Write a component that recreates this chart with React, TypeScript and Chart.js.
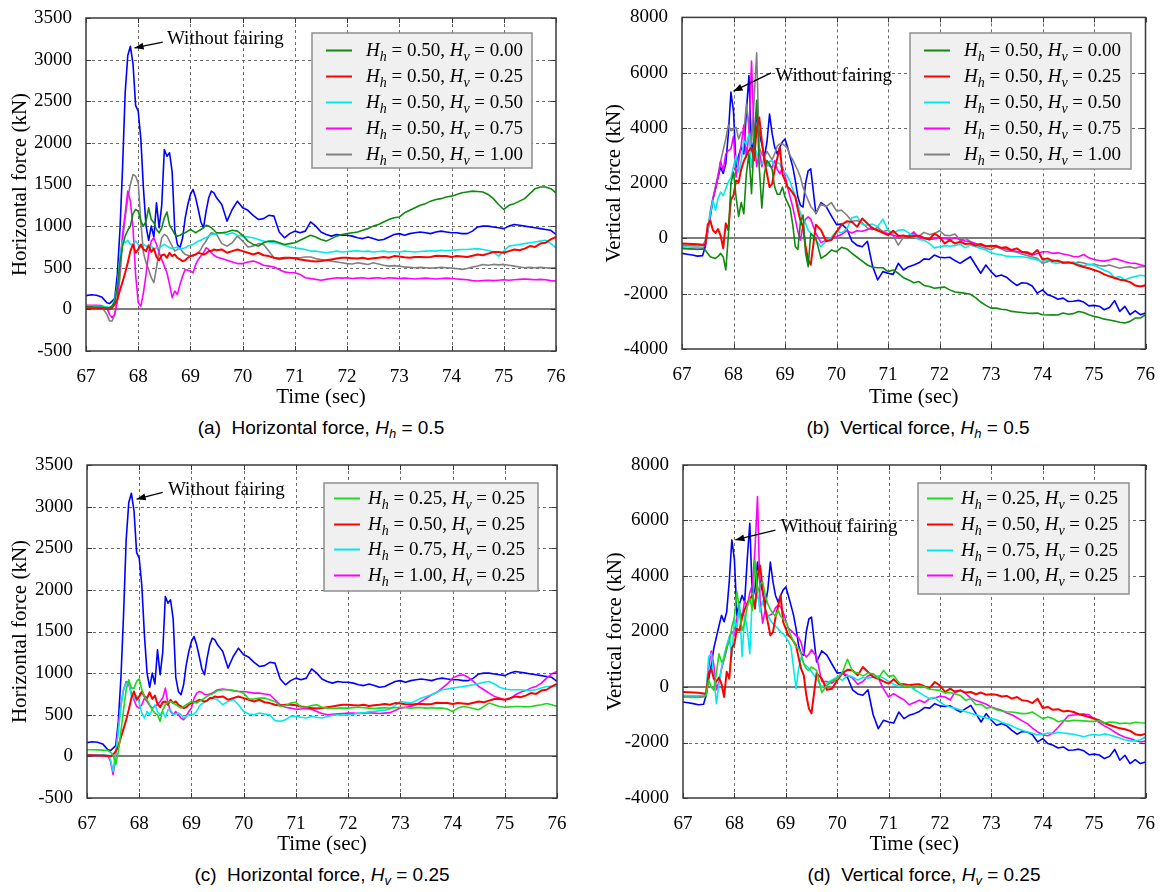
import React, { useEffect, useRef } from "react";
import { Chart, registerables } from "chart.js";

Chart.register(...registerables);

// ---------------- time grid (s) ----------------
const TIME = [
  67.0, 67.1, 67.2, 67.3, 67.4,
  67.45, 67.5, 67.55, 67.6, 67.65, 67.7, 67.75, 67.8, 67.85, 67.9, 67.95, 68.0,
  68.05, 68.1, 68.15, 68.2, 68.25, 68.3, 68.35, 68.4, 68.45, 68.5, 68.55, 68.6, 68.65, 68.7, 68.75, 68.8, 68.85, 68.9, 68.95, 69.0,
  69.05, 69.1, 69.15, 69.2, 69.25, 69.3, 69.35, 69.4, 69.45, 69.5,
  69.6, 69.7, 69.8, 69.9, 70.0,
  70.1, 70.2, 70.3, 70.4, 70.5, 70.6, 70.7, 70.8, 70.9,
  71.0, 71.1, 71.2, 71.3, 71.4, 71.5, 71.6, 71.7, 71.8, 71.9,
  72.0, 72.1, 72.2, 72.3, 72.4, 72.5, 72.6, 72.7, 72.8, 72.9,
  73.0, 73.1, 73.2, 73.3, 73.4, 73.5, 73.6, 73.7, 73.8, 73.9,
  74.0, 74.1, 74.2, 74.3, 74.4, 74.5, 74.6, 74.7, 74.8, 74.9,
  75.0, 75.1, 75.2, 75.3, 75.4, 75.5, 75.6, 75.7, 75.8, 75.9, 76.0,
];

// ---------------- horizontal force (kN) ----------------
const HZ_NOFAIR = [
  165, 175, 170, 150, 80,
  70, 100, 130, 420, 950, 1700, 2600, 3050, 3160, 2950, 2450, 2380,
  2050, 1450, 1000, 830, 1000, 870, 1280, 980, 1250, 1920, 1840, 1880, 1650, 950, 780, 740, 860, 1100, 1260, 1380,
  1440, 1340, 1200, 1050, 980, 1180, 1340, 1420, 1400, 1340,
  1260, 1060, 1200, 1300, 1220,
  1190, 1130, 1080, 1090, 1130, 1120, 930, 860, 910,
  940, 920, 940, 1050, 1000, 930, 900, 880, 900, 890,
  890, 880, 860, 850, 870, 850, 830, 840, 870, 900,
  910, 890, 910, 920, 930, 920, 910, 930, 940, 930,
  920, 920, 910, 910, 940, 990, 1000, 1000, 990, 980,
  970, 1000, 1020, 1010, 1000, 990, 980, 970, 960, 950, 900,
];
const HZ_HV000 = [
  30, 30, 25, 25, 20,
  20, 40, 90, 260, 560, 760, 880, 950, 1000, 1150, 1200, 1180,
  1060, 1000, 1060, 1220, 1080, 1040, 960, 920, 980, 1100, 1170, 1010, 960, 900, 880, 890, 910, 920, 940, 960,
  940, 920, 940, 960, 980, 1010, 1000, 980, 950, 920,
  920, 930, 950, 940, 890,
  820, 780, 760, 800, 820, 820, 800, 780, 790,
  800, 830, 860, 890, 870, 840, 820, 850, 880, 900,
  910, 920, 930, 950, 970, 1000, 1020, 1050, 1080, 1100,
  1110, 1160, 1190, 1220, 1250, 1270, 1300, 1320, 1330, 1350,
  1360, 1380, 1400, 1410, 1420, 1415, 1410, 1380, 1330, 1260,
  1200, 1250, 1270, 1300, 1330, 1390, 1450, 1470, 1470, 1450, 1400,
];
const HZ_HV025 = [
  15, 15, 12, 10, 5,
  0, 20, 60, 120, 230, 330, 440, 560, 700, 780, 680, 720,
  780, 720, 700, 770, 690, 730, 630, 590, 650, 660, 620, 680, 640, 660, 620, 600, 580, 590, 620, 640,
  650, 660, 680, 670, 660, 670, 700, 700, 720, 710,
  720, 680, 700, 720, 700,
  680, 660, 680, 650, 640, 620, 610, 620, 620,
  615, 600, 590, 580, 575, 580, 590, 600, 610, 620,
  620, 615, 610, 620, 605, 615, 620, 630, 620, 640,
  635, 625, 620, 630, 630, 625, 630, 645, 640, 640,
  630, 640, 635, 630, 645, 660, 650, 670, 690, 690,
  680, 700, 720, 710, 730, 760, 750, 790, 800, 840, 870,
];
const HZ_HV050 = [
  40, 40, 38, 35, 30,
  20, 40, 120, 280, 620, 820, 800, 830, 780, 780, 820, 780,
  740, 780, 760, 740, 760, 720, 740, 740, 760, 780, 760, 740, 730, 740, 750, 720, 730, 740, 760, 770,
  780, 800, 820, 830, 850, 860, 880, 900, 900, 910,
  920, 900, 920, 890, 880,
  870, 860, 840, 820, 810, 800, 790, 770, 750,
  740, 730, 720, 700, 700, 690, 680, 690, 700, 690,
  695, 700, 705, 695, 700, 690, 695, 700, 690, 695,
  690, 700, 695, 690, 695, 700, 705, 700, 710, 705,
  710, 715, 720, 720, 725, 730, 720, 710, 690, 640,
  700, 760, 770, 780, 790, 800, 810, 820, 830, 790, 740,
];
const HZ_HV075 = [
  50, 50, 48, 45, 20,
  -60, -100, -60, 100, 550, 900, 1150, 1420, 1300, 980, 420, 80,
  40, 200, 420, 680, 820, 860, 780, 680, 600, 520, 440, 300, 140, 220, 180, 300, 400, 480, 470, 460,
  440, 540, 600, 640, 680, 740, 720, 680, 650, 630,
  610, 590, 570, 550, 550,
  570, 580, 560, 530, 520, 510, 480, 450, 440,
  440, 420, 380, 370, 360, 350, 360, 370, 380, 375,
  380, 370, 375, 380, 370, 375, 380, 370, 380, 375,
  370, 375, 370, 365, 370, 375, 370, 365, 370, 375,
  370, 365, 360, 355, 345, 340, 345, 350, 345, 350,
  355, 350, 355, 360, 365, 360, 355, 360, 355, 345, 340,
];
const HZ_HV100 = [
  40, 40, 38, 30, -60,
  -140, -140, -60, 120, 380, 820, 1100, 1340, 1500, 1620, 1600, 1520,
  1050, 680, 560, 480, 380, 320, 500, 700, 860, 900, 880, 820, 760, 700, 720, 740, 690, 660, 650, 640,
  640, 660, 680, 720, 780, 820, 880, 920, 910, 900,
  790, 760, 800, 880, 820,
  750, 760, 790, 780, 700, 620, 600, 610, 620,
  620, 620, 630, 630, 610, 600, 590, 580, 570, 560,
  550, 545, 560, 550, 540, 560, 545, 530, 520, 525,
  520, 510, 505, 500, 505, 500, 495, 500, 505, 500,
  495, 490, 480, 490, 510, 520, 540, 530, 540, 535,
  540, 530, 520, 510, 500, 505, 500, 505, 500, 495, 500,
];
const HZ_HH025 = [
  80, 80, 78, 75, 70,
  50, 20, -100, 60, 300, 560, 800, 920, 820, 820, 900, 930,
  800, 720, 680, 620, 560, 520, 500, 420, 560, 620, 650, 660, 640, 620, 600, 580, 600, 620, 640, 660,
  650, 640, 660, 680, 700, 720, 740, 750, 770, 790,
  800, 800, 790, 780, 760,
  690, 690, 700, 700, 680, 660, 600, 610, 640,
  650, 590, 590, 610, 620, 590, 580, 575, 580, 580,
  580, 585, 590, 585, 580, 575, 580, 585, 580, 585,
  590, 585, 580, 585, 585, 580, 585, 580, 580, 570,
  540, 580, 600, 590, 575, 560, 600, 640, 620, 600,
  590, 595, 600, 600, 595, 600, 610, 620, 635, 620, 600,
];
const HZ_HH075 = [
  20, 20, 20, 18, 15,
  -40, -180, 40, 300, 600, 800, 880, 900, 720, 700, 730, 640,
  520, 460, 540, 500, 560, 620, 540, 500, 540, 470, 560, 560, 500, 510, 520, 500, 460, 480, 500, 500,
  510, 540, 600, 630, 650, 670, 690, 700, 690, 680,
  620, 660, 680, 620, 540,
  510, 500, 520, 510, 500, 430, 420, 440, 480,
  480, 470, 460, 480, 470, 460, 480, 490, 500, 495,
  500, 505, 520, 525, 535, 540, 550, 555, 570, 610,
  660, 650, 640, 670, 700, 720, 740, 770, 800, 810,
  820, 830, 840, 850, 860, 875, 890, 900, 870, 830,
  810, 800, 800, 800, 795, 790, 800, 820, 840, 840, 840,
];
const HZ_HH100 = [
  10, 10, 10, 8, 5,
  -60, -220, 20, 360, 620, 800, 900, 860, 760, 680, 600, 580,
  620, 700, 660, 610, 580, 600, 620, 660, 700, 820, 640, 540, 500, 540, 500, 460, 440, 480, 540, 580,
  700, 760, 780, 770, 745, 740, 750, 760, 780, 800,
  810, 800, 790, 780, 780,
  770, 760, 760, 750, 740, 680, 620, 590, 580,
  565, 570, 575, 565, 540, 515, 500, 505, 510, 515,
  520, 520, 515, 520, 525, 520, 515, 520, 525, 550,
  580, 590, 600, 620, 660, 700, 740, 770, 820, 870,
  940, 970, 980, 950, 900, 840, 800, 760, 720, 700,
  680, 690, 740, 770, 790, 820, 840, 880, 940, 990, 1020,
];

// ---------------- vertical force (kN) ----------------
const VT_NOFAIR = [
  -540, -570, -600, -640, -620,
  -300, 300, 780, 1400, 1800, 2200, 2580, 2350, 2700, 3800, 5300, 4600,
  2580, 3000, 3300, 3060, 4600, 5900, 3180, 3540, 4500, 3800, 3420, 2940, 3500, 4500, 3800, 3300, 3060, 3300, 3500, 3600,
  3300, 2950, 2600, 2100, 1500, 1200, 1140, 2000, 2450, 2520,
  900, 1300, 1150, 820, 500,
  520, 350, -100, -250, -300, -100, -1000, -1500, -1200,
  -1260, -1300, -900, -1140, -1020, -960, -880, -740, -760, -600,
  -680, -700, -680, -800, -900, -780, -660, -960, -1260, -960,
  -1200, -1380, -1320, -1400, -1560, -1700, -1600, -1620, -1720, -1980,
  -1860, -2040, -2100, -2200, -2160, -2280, -2270, -2240, -2300, -2440,
  -2420, -2450, -2580, -2500, -2250, -2640, -2460, -2760, -2620, -2760, -2700,
];
const VT_HV000 = [
  -360, -370, -380, -400, -380,
  -420, -540, -660, -700, -720, -650, -540, -660, -1140, 100, 2000, 2400,
  1500, 800, 1300, 900, 2340, 3060, 1620, 3500, 5000, 2580, 1100, 2340, 2820, 2700, 2500, 1860, 1600, 1600, 1860, 1500,
  1300, 1100, 500, -300, -400, 600, 850, -540, -1020, 180,
  0, -720, -600, -420, -480,
  -320, -380, -540, -680, -820, -960, -1040, -1060, -1060,
  -1200, -1140, -1260, -1420, -1500, -1600, -1560, -1700, -1740, -1800,
  -1780, -1760, -1860, -1940, -1960, -1980, -2020, -2140, -2300, -2420,
  -2520, -2520, -2560, -2580, -2640, -2660, -2680, -2700, -2710, -2700,
  -2760, -2770, -2760, -2770, -2700, -2740, -2720, -2640, -2680, -2760,
  -2820, -2860, -2920, -2950, -2990, -3030, -3060, -3000, -2880, -2880, -2760,
];
const VT_HV025 = [
  -180, -190, -200, -210, -230,
  -240, 500, 650, 300, 200, 340, 100, -360, 550, 300, 1400, 1560,
  2100, 2040, 2500, 2800, 3000, 3180, 3300, 2820, 4000, 4380, 3540, 2820, 2340, 1860, 1980, 2500, 2900, 3300, 2340, 2100,
  1860, 1780, 1650, 1500, 1050, 650, 420, -300, -780, -950,
  500, 300, -100, -60, 240,
  500, 620, 600, 420, 720, 540, 360, 300, 200,
  120, 280, 100, 100, 60, 90, 100, 20, -40, 180,
  60, -180, -60, -180, -120, -200, -180, -260, -200, -280,
  -260, -280, -340, -320, -420, -360, -480, -500, -580, -420,
  -760, -720, -820, -800, -880, -860, -900, -980, -1030, -1080,
  -1140, -1200, -1300, -1370, -1430, -1490, -1520, -1580, -1700, -1740, -1690,
];
const VT_HV050 = [
  -300, -310, -320, -330, -320,
  -150, 300, 900, 1380, 1020, 1450, 1680, 1550, 1800, 2050, 2200, 2600,
  3000, 2400, 2800, 3540, 3420, 3780, 2580, 3300, 3100, 2700, 2700, 2820, 2600, 2800, 2800, 2580, 2750, 2700, 2460, 2380,
  2250, 2050, 1780, 1550, 1250, 900, 750, 550, 300, 200,
  -60, -300, -80, 40, 260,
  200, 350, 750, 800, 500, 480, 520, 430, 700,
  300, 180, 300, 320, 200, 80, -40, -60, -180, -340,
  -300, -260, -280, -260, -200, -340, -240, -300, -360, -420,
  -520, -560, -590, -640, -650, -660, -660, -690, -730, -780,
  -840, -780, -880, -900, -850, -890, -850, -930, -1000, -930,
  -960, -1060, -1150, -1220, -1420, -1380, -1500, -1420, -1380, -1330, -1360,
];
const VT_HV075 = [
  -360, -370, -380, -390, -370,
  -200, 200, 900, 1450, 1800, 2250, 2800, 2460, 3060, 3180, 3240, 3700,
  2220, 2800, 3400, 4100, 2940, 3780, 6420, 3700, 2600, 3200, 2600, 2940, 2700, 2620, 2580, 2820, 2500, 2340, 2580, 2300,
  1850, 1500, 1140, 700, 250, -60, 500, 700, 780, 700,
  180, -150, -60, 0, 60,
  150, 280, 200, 280, 260, 320, 400, 280, 220,
  180, 120, 60, 120, 60, 240, 20, 0, -40, -20,
  40, 0, -40, 30, -40, -90, -120, -180, -240, -280,
  -300, -250, -340, -390, -430, -470, -500, -540, -600, -540,
  -480, -480, -540, -520, -560, -600, -650, -660, -580, -700,
  -760, -800, -820, -780, -730, -780, -840, -890, -900, -950, -1000,
];
const VT_HV100 = [
  -240, -250, -260, -270, -250,
  -100, 300, 1000, 1450, 1900, 2300, 2800, 3200, 3600, 4100, 3900, 3950,
  4020, 3600, 3850, 3780, 4860, 4000, 3420, 5000, 6720, 3300, 3050, 2940, 3150, 3000, 2850, 3060, 3350, 3420, 3420, 3350,
  3250, 3000, 2850, 2650, 2450, 2220, 1850, 1600, 1380, 1160,
  920, 1250, 1150, 1300, 1000,
  1020, 850, 620, 650, 560, 380, 320, 400, 250,
  300, 100, -240, 40, 120, 170, 80, 220, 140, 170,
  280, 120, 100, 160, -60, 0, -110, -240, -300, -350,
  -410, -310, -370, -460, -450, -500, -560, -620, -670, -720,
  -900, -840, -780, -830, -890, -880, -900, -850, -890, -950,
  -930, -980, -1000, -960, -1020, -1080, -1040, -1020, -1080, -1020, -1020,
];
const VT_HH025 = [
  -360, -370, -380, -380, -360,
  -300, 240, 0, -120, 500, 1200, 900, 1000, 1440, 1600, 2160, 2520,
  3430, 2770, 2040, 2300, 2900, 3200, 2770, 4570, 3400, 3700, 3800, 3300, 3000, 2800, 2650, 2550, 2770, 2550, 2450, 2350,
  2100, 1850, 1650, 1450, 1380, 1200, 840, 650, 600, 720,
  600, -200, 60, 220, 300,
  520, 1000, 560, 500, 400, 500, 480, 300, 600,
  380, 420, 160, 20, 40, -40, 40, 0, -80, -100,
  -120, -220, -200, -250, -310, -480, -420, -640, -620, -760,
  -730, -820, -860, -890, -900, -930, -960, -950, -900, -1020,
  -1140, -1080, -1140, -1250, -1210, -1230, -1200, -1210, -1220, -1240,
  -1240, -1220, -1300, -1260, -1270, -1320, -1300, -1320, -1270, -1290, -1300,
];
const VT_HH075 = [
  -300, -310, -320, -320, -300,
  -240, 1100, 1200, 400, -600, 100, 700, 1150, 1500, 1800, 1100, 2450,
  2100, 3000, 1100, 2600, 2100, 1200, 3370, 2890, 3400, 2700, 3100, 2770, 2600, 2400, 2280, 2200, 2100, 1980, 1920, 1800,
  1650, 1450, 700, -60, 650, 1080, 840, 750, 680, 560,
  300, 0, 140, 250, 360,
  240, 420, 360, 250, 340, 320, 350, 400, 320,
  200, 100, 20, 100, 60, -100, -200, -320, -420, -380,
  -540, -660, -720, -770, -830, -890, -950, -1000, -1060, -1120,
  -1140, -1180, -1270, -1330, -1400, -1500, -1560, -1620, -1670, -1730,
  -1700, -1660, -1680, -1640, -1660, -1680, -1700, -1750, -1790, -1740,
  -1710, -1740, -1690, -1730, -1780, -1840, -1900, -1940, -1940, -1900, -1800,
];
const VT_HH100 = [
  -340, -345, -350, -355, -330,
  -240, 700, 1300, 800, -100, 200, 650, 1000, 1350, 1800, 2000, 1850,
  2520, 2770, 2520, 3100, 2900, 3400, 3700, 4930, 6860, 3130, 2300, 2770, 2550, 2600, 2650, 2850, 2950, 2900, 2700, 2400,
  2120, 2040, 1950, 1850, 1780, 1600, 1200, 1080, 1180, 1350,
  1080, 200, 200, 140, 320,
  500, 420, 320, 100, 200, 400, 460, 320, -60,
  -360, -240, -360, -460, -640, -560, -480, -560, -420, -400,
  -330, -360, -470, -150, -120, -240, -400, -490, -550, -620,
  -720, -780, -840, -940, -1000, -1110, -1220, -1320, -1480, -1620,
  -1720, -1760, -1650, -1450, -1240, -1030, -1010, -990, -970, -1000,
  -1150, -1280, -1400, -1500, -1620, -1730, -1810, -1860, -1930, -1980, -1950,
];

// ---------------- ticks & labels ----------------
const X_TICKS = [67, 68, 69, 70, 71, 72, 73, 74, 75, 76];
const HZ_TICKS = [-500, 0, 500, 1000, 1500, 2000, 2500, 3000, 3500];
const VT_TICKS = [-4000, -2000, 0, 2000, 4000, 6000, 8000];
const X_TITLE = "Time (sec)";
const HZ_TITLE = "Horizontal force (kN)";
const VT_TITLE = "Vertical force (kN)";
const NOTE_TEXT = "Without fairing";

const COL = {
  blue: "#0000ff",
  green: "#0e8a0e",
  lime: "#1ed81e",
  red: "#ff0000",
  cyan: "#00eaea",
  magenta: "#ff00ff",
  gray: "#808080",
};

const SERIF = '"Liberation Serif", "Times New Roman", serif';
const SANS = '"Liberation Sans", Arial, sans-serif';

type Series = { values: number[]; color: string; width: number; hh?: string; hv?: string };
type PanelCfg = {
  left: number; top: number; W: number; H: number;
  plotL: number; plotR: number; plotT: number; plotB: number;
  yMin: number; yMax: number; yTicks: number[]; yTitle: string; yTitlePad: number;
  series: Series[];
  legend: { x: number; y: number; w: number; h: number; first: number; rowH: number; lineX: number; textX: number };
  note: { tipX: number; tipY: number; tailX: number; tailY: number; textX: number; textY: number };
  caption: { cx: number; cy: number; tag: string; text: string; sub: string; val: string };
};

const PANELS: PanelCfg[] = [
  {
    left: 0, top: 0, W: 581, H: 415, plotL: 86, plotR: 556, plotT: 18, plotB: 351,
    yMin: -500, yMax: 3500, yTicks: HZ_TICKS, yTitle: HZ_TITLE, yTitlePad: 8,
    series: [
      { values: HZ_HV000, color: COL.green, width: 1.6, hh: "0.50", hv: "0.00" },
      { values: HZ_HV025, color: COL.red, width: 2, hh: "0.50", hv: "0.25" },
      { values: HZ_HV050, color: COL.cyan, width: 1.6, hh: "0.50", hv: "0.50" },
      { values: HZ_HV075, color: COL.magenta, width: 1.6, hh: "0.50", hv: "0.75" },
      { values: HZ_HV100, color: COL.gray, width: 1.6, hh: "0.50", hv: "1.00" },
      { values: HZ_NOFAIR, color: COL.blue, width: 1.6 },
    ],
    legend: { x: 312, y: 33, w: 220, h: 135, first: 17, rowH: 26, lineX: 14, textX: 54 },
    note: { tipX: 67.93, tipY: 3140, tailX: 68.47, tailY: 3210, textX: 68.55, textY: 3250 },
    caption: { cx: 321, cy: 428, tag: "(a)", text: "Horizontal force, ", sub: "h", val: "0.5" },
  },
  {
    left: 581, top: 0, W: 581, H: 415, plotL: 101, plotR: 571, plotT: 16, plotB: 349,
    yMin: -4000, yMax: 8000, yTicks: VT_TICKS, yTitle: VT_TITLE, yTitlePad: 21,
    series: [
      { values: VT_HV000, color: COL.green, width: 1.6, hh: "0.50", hv: "0.00" },
      { values: VT_HV025, color: COL.red, width: 2, hh: "0.50", hv: "0.25" },
      { values: VT_HV050, color: COL.cyan, width: 1.6, hh: "0.50", hv: "0.50" },
      { values: VT_HV075, color: COL.magenta, width: 1.6, hh: "0.50", hv: "0.75" },
      { values: VT_HV100, color: COL.gray, width: 1.6, hh: "0.50", hv: "1.00" },
      { values: VT_NOFAIR, color: COL.blue, width: 1.6 },
    ],
    legend: { x: 329, y: 33, w: 221, h: 136, first: 17, rowH: 26, lineX: 14, textX: 54 },
    note: { tipX: 68.0, tipY: 5330, tailX: 68.73, tailY: 5990, textX: 68.81, textY: 5870 },
    caption: { cx: 918, cy: 428, tag: "(b)", text: "Vertical force, ", sub: "h", val: "0.5" },
  },
  {
    left: 0, top: 447, W: 581, H: 415, plotL: 87, plotR: 557, plotT: 18, plotB: 351,
    yMin: -500, yMax: 3500, yTicks: HZ_TICKS, yTitle: HZ_TITLE, yTitlePad: 8,
    series: [
      { values: HZ_HH025, color: COL.lime, width: 1.6, hh: "0.25", hv: "0.25" },
      { values: HZ_HV025, color: COL.red, width: 2, hh: "0.50", hv: "0.25" },
      { values: HZ_HH075, color: COL.cyan, width: 1.6, hh: "0.75", hv: "0.25" },
      { values: HZ_HH100, color: COL.magenta, width: 1.6, hh: "1.00", hv: "0.25" },
      { values: HZ_NOFAIR, color: COL.blue, width: 1.6 },
    ],
    legend: { x: 324, y: 36, w: 214, h: 108, first: 15, rowH: 25.7, lineX: 10, textX: 44 },
    note: { tipX: 67.95, tipY: 3090, tailX: 68.45, tailY: 3170, textX: 68.55, textY: 3200 },
    caption: { cx: 322, cy: 875, tag: "(c)", text: "Horizontal force, ", sub: "v", val: "0.25" },
  },
  {
    left: 581, top: 447, W: 581, H: 415, plotL: 102, plotR: 572, plotT: 18, plotB: 351,
    yMin: -4000, yMax: 8000, yTicks: VT_TICKS, yTitle: VT_TITLE, yTitlePad: 22,
    series: [
      { values: VT_HH025, color: COL.lime, width: 1.6, hh: "0.25", hv: "0.25" },
      { values: VT_HV025, color: COL.red, width: 2, hh: "0.50", hv: "0.25" },
      { values: VT_HH075, color: COL.cyan, width: 1.6, hh: "0.75", hv: "0.25" },
      { values: VT_HH100, color: COL.magenta, width: 1.6, hh: "1.00", hv: "0.25" },
      { values: VT_NOFAIR, color: COL.blue, width: 1.6 },
    ],
    legend: { x: 337, y: 36, w: 211, h: 111, first: 15, rowH: 25.8, lineX: 9, textX: 43 },
    note: { tipX: 68.02, tipY: 5300, tailX: 68.8, tailY: 5650, textX: 68.9, textY: 5760 },
    caption: { cx: 924, cy: 875, tag: "(d)", text: "Vertical force, ", sub: "v", val: "0.25" },
  },
];

function makePlugin(cfg: PanelCfg) {
  return {
    id: "matlabStyle",
    beforeDatasetsDraw(chart: any) {
      const { ctx, chartArea } = chart;
      const { left, right, top, bottom } = chartArea;
      const xs = chart.scales.x;
      const ys = chart.scales.y;
      ctx.save();
      ctx.strokeStyle = "#6a6a6a";
      ctx.lineWidth = 1;
      ctx.setLineDash([3, 3]);
      X_TICKS.forEach((v) => {
        if (v === X_TICKS[0] || v === X_TICKS[X_TICKS.length - 1]) return;
        const px = Math.round(xs.getPixelForValue(v)) + 0.5;
        ctx.beginPath();
        ctx.moveTo(px, top);
        ctx.lineTo(px, bottom);
        ctx.stroke();
      });
      cfg.yTicks.forEach((v) => {
        if (v === cfg.yMin || v === cfg.yMax || v === 0) return;
        const py = Math.round(ys.getPixelForValue(v)) + 0.5;
        ctx.beginPath();
        ctx.moveTo(left, py);
        ctx.lineTo(right, py);
        ctx.stroke();
      });
      ctx.setLineDash([]);
      ctx.strokeStyle = "#505050";
      ctx.lineWidth = 1.5;
      const y0 = Math.round(ys.getPixelForValue(0));
      ctx.beginPath();
      ctx.moveTo(left, y0);
      ctx.lineTo(right, y0);
      ctx.stroke();
      ctx.restore();
    },
    afterDraw(chart: any) {
      const { ctx, chartArea } = chart;
      const { left, right, top, bottom } = chartArea;
      const xs = chart.scales.x;
      const ys = chart.scales.y;
      ctx.save();
      // frame
      ctx.strokeStyle = "#3a3a3a";
      ctx.lineWidth = 1.5;
      ctx.strokeRect(left, top, right - left, bottom - top);
      // inward ticks
      ctx.lineWidth = 1;
      const tl = 5;
      X_TICKS.forEach((v) => {
        const px = Math.round(xs.getPixelForValue(v)) + 0.5;
        ctx.beginPath();
        ctx.moveTo(px, top);
        ctx.lineTo(px, top + tl);
        ctx.moveTo(px, bottom);
        ctx.lineTo(px, bottom - tl);
        ctx.stroke();
      });
      cfg.yTicks.forEach((v) => {
        const py = Math.round(ys.getPixelForValue(v)) + 0.5;
        ctx.beginPath();
        ctx.moveTo(left, py);
        ctx.lineTo(left + tl, py);
        ctx.moveTo(right, py);
        ctx.lineTo(right - tl, py);
        ctx.stroke();
      });

      // annotation
      const n = cfg.note;
      const tx = xs.getPixelForValue(n.tipX);
      const ty = ys.getPixelForValue(n.tipY);
      const sx = xs.getPixelForValue(n.tailX);
      const sy = ys.getPixelForValue(n.tailY);
      ctx.strokeStyle = "#000";
      ctx.fillStyle = "#000";
      ctx.lineWidth = 1.3;
      ctx.beginPath();
      ctx.moveTo(sx, sy);
      ctx.lineTo(tx, ty);
      ctx.stroke();
      const ang = Math.atan2(ty - sy, tx - sx);
      const al = 9;
      const aw = 3.5;
      ctx.beginPath();
      ctx.moveTo(tx, ty);
      ctx.lineTo(tx - al * Math.cos(ang) + aw * Math.sin(ang), ty - al * Math.sin(ang) - aw * Math.cos(ang));
      ctx.lineTo(tx - al * Math.cos(ang) - aw * Math.sin(ang), ty - al * Math.sin(ang) + aw * Math.cos(ang));
      ctx.closePath();
      ctx.fill();
      ctx.font = `19px ${SERIF}`;
      ctx.textBaseline = "middle";
      ctx.textAlign = "left";
      ctx.fillText(NOTE_TEXT, xs.getPixelForValue(n.textX), ys.getPixelForValue(n.textY));

      // legend
      const L = cfg.legend;
      ctx.fillStyle = "#f0f0f0";
      ctx.fillRect(L.x, L.y, L.w, L.h);
      ctx.strokeStyle = "#8f8f8f";
      ctx.lineWidth = 1.5;
      ctx.strokeRect(L.x, L.y, L.w, L.h);
      const items = cfg.series.filter((s) => s.hh);
      ctx.textBaseline = "alphabetic";
      items.forEach((s, i) => {
        const cy = Math.round(L.y + L.first + i * L.rowH);
        ctx.strokeStyle = s.color;
        ctx.lineWidth = 2;
        ctx.beginPath();
        ctx.moveTo(L.x + L.lineX, cy + 0.5);
        ctx.lineTo(L.x + L.lineX + 26, cy + 0.5);
        ctx.stroke();
        const base = cy + 6;
        let x = L.x + L.textX;
        const segs: [string, number, string, number][] = [
          ["italic", 19, "H", 0],
          ["italic", 14, "h", 5],
          ["normal", 19, " = " + s.hh + ", ", 0],
          ["italic", 19, "H", 0],
          ["italic", 14, "v", 5],
          ["normal", 19, " = " + s.hv, 0],
        ];
        ctx.fillStyle = "#000";
        segs.forEach(([st, sz, t, dy]) => {
          ctx.font = `${st} ${sz}px ${SERIF}`;
          ctx.fillText(t, x, base + dy);
          x += ctx.measureText(t).width;
        });
      });
      ctx.restore();
    },
  };
}

function Panel({ cfg }: { cfg: PanelCfg }) {
  const ref = useRef<HTMLCanvasElement | null>(null);
  useEffect(() => {
    if (!ref.current) return;
    const datasets = cfg.series.map((s) => ({
      label: s.hh ? `H_h = ${s.hh}, H_v = ${s.hv}` : NOTE_TEXT,
      data: TIME.map((t, i) => ({ x: t, y: s.values[i] })),
      borderColor: s.color,
      borderWidth: s.width,
      pointRadius: 0,
      fill: false,
      tension: 0,
      borderJoinStyle: "round" as const,
    }));
    const chart = new Chart(ref.current, {
      type: "line",
      data: { datasets },
      options: {
        responsive: false,
        animation: false,
        devicePixelRatio: 1,
        layout: { padding: { left: 0, right: cfg.W - cfg.plotR, top: cfg.plotT, bottom: 0 } },
        plugins: { legend: { display: false }, tooltip: { enabled: false } },
        scales: {
          x: {
            type: "linear",
            min: 67,
            max: 76,
            afterBuildTicks: (axis: any) => {
              axis.ticks = X_TICKS.map((v) => ({ value: v }));
            },
            afterFit: (axis: any) => {
              axis.height = cfg.H - cfg.plotB;
            },
            grid: { display: false },
            border: { display: false },
            ticks: {
              color: "#000",
              font: { family: SERIF, size: 19 },
              padding: 7,
              maxRotation: 0,
              autoSkip: false,
              callback: (v: any) => String(v),
            },
            title: {
              display: true,
              text: X_TITLE,
              color: "#000",
              font: { family: SERIF, size: 21 },
              padding: { top: 0, bottom: 5 },
            },
          },
          y: {
            type: "linear",
            min: cfg.yMin,
            max: cfg.yMax,
            afterBuildTicks: (axis: any) => {
              axis.ticks = cfg.yTicks.map((v) => ({ value: v }));
            },
            afterFit: (axis: any) => {
              axis.width = cfg.plotL;
            },
            grid: { display: false },
            border: { display: false },
            ticks: {
              color: "#000",
              font: { family: SERIF, size: 19 },
              padding: 6,
              autoSkip: false,
              callback: (v: any) => String(v),
            },
            title: {
              display: true,
              text: cfg.yTitle,
              color: "#000",
              font: { family: SERIF, size: 21 },
              padding: { top: cfg.yTitlePad, bottom: 0 },
            },
          },
        },
      },
      plugins: [makePlugin(cfg)],
    } as any);
    return () => chart.destroy();
  }, [cfg]);
  return (
    <canvas
      ref={ref}
      width={cfg.W}
      height={cfg.H}
      style={{ position: "absolute", left: cfg.left, top: cfg.top, width: cfg.W, height: cfg.H }}
    />
  );
}

function Caption({ cfg }: { cfg: PanelCfg }) {
  const c = cfg.caption;
  return (
    <div
      style={{
        position: "absolute",
        left: c.cx - 200,
        top: c.cy - 12,
        width: 400,
        height: 24,
        lineHeight: "24px",
        textAlign: "center",
        fontFamily: SANS,
        fontSize: 19,
        color: "#000",
        whiteSpace: "pre",
      }}
    >
      {c.tag + "  " + c.text}
      <i>H</i>
      <sub style={{ fontSize: 13, fontStyle: "italic", verticalAlign: "-4px", lineHeight: 0 }}>{c.sub}</sub>
      {" = " + c.val}
    </div>
  );
}

export default function App() {
  return (
    <div style={{ position: "absolute", left: 0, top: 0, width: 1162, height: 892, background: "#fff", overflow: "hidden" }}>
      {PANELS.map((p, i) => (
        <Panel key={"p" + i} cfg={p} />
      ))}
      {PANELS.map((p, i) => (
        <Caption key={"c" + i} cfg={p} />
      ))}
    </div>
  );
}
